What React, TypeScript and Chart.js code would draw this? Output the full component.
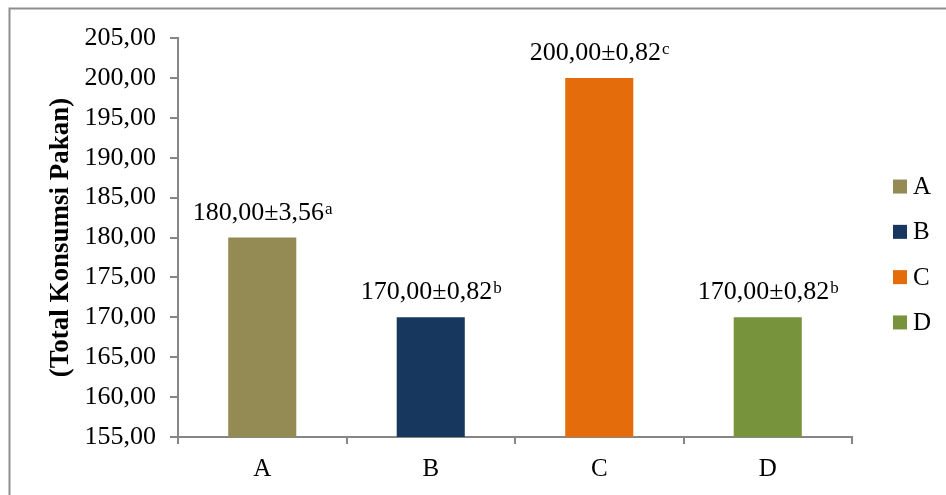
import React, { useEffect, useRef } from "react";
import { Chart, registerables } from "chart.js";

Chart.register(...registerables);

// Treatment groups and their mean feed consumption
const categories = ["A", "B", "C", "D"];
const meanValues = [180.0, 170.0, 200.0, 170.0];
const sdValues = [3.56, 0.82, 0.82, 0.82];
const sigLetters = ["a", "b", "c", "b"];
const barColors = ["#948A54", "#17375E", "#E46C0A", "#77933C"];

// Value axis range
const yMin = 155;
const yMax = 205;
const yStep = 5;

const yTitle = "(Total Konsumsi Pakan)";

const SERIF = "'Liberation Serif', 'Times New Roman', serif";
const AXIS_GRAY = "#868686";

const fmt = (v: number) => v.toFixed(2).replace(".", ",");

// Frame around the chart (top and left edges)
const framePlugin = {
  id: "frame",
  beforeDraw(chart: any) {
    const { ctx, width, height } = chart;
    ctx.save();
    ctx.fillStyle = "#ffffff";
    ctx.fillRect(0, 0, width, height);
    ctx.strokeStyle = "#8e8e8e";
    ctx.lineWidth = 2;
    ctx.beginPath();
    ctx.moveTo(9.5, height);
    ctx.lineTo(9.5, 8.5);
    ctx.lineTo(width, 8.5);
    ctx.stroke();
    ctx.restore();
  },
};

// Mean ± SD labels with significance superscripts
const valueLabelPlugin = {
  id: "valueLabels",
  afterDatasetsDraw(chart: any) {
    const { ctx } = chart;
    const meta = chart.getDatasetMeta(0);
    ctx.save();
    meta.data.forEach((bar: any, i: number) => {
      const main = `${fmt(meanValues[i])}±${fmt(sdValues[i])}`;
      const sup = sigLetters[i];
      ctx.font = `26px ${SERIF}`;
      const wMain = ctx.measureText(main).width;
      ctx.font = `17px ${SERIF}`;
      const wSup = ctx.measureText(sup).width;
      const total = wMain + wSup;
      const x0 = bar.x - total / 2;
      const base = bar.y - 18;
      ctx.fillStyle = "#000000";
      ctx.textAlign = "left";
      ctx.textBaseline = "alphabetic";
      ctx.font = `26px ${SERIF}`;
      ctx.fillText(main, x0, base);
      ctx.font = `17px ${SERIF}`;
      ctx.fillText(sup, x0 + wMain + 1, base - 6);
    });
    ctx.restore();
  },
};

// Legend listed to the right of the plot
const sideLegendPlugin = {
  id: "sideLegend",
  afterDraw(chart: any) {
    const { ctx, chartArea } = chart;
    const spacing = 45.3;
    const cy = (chartArea.top + chartArea.bottom) / 2 + 17;
    const startY = cy - (spacing * (categories.length - 1)) / 2;
    const boxX = chartArea.right + 41;
    ctx.save();
    ctx.font = `25px ${SERIF}`;
    ctx.textAlign = "left";
    ctx.textBaseline = "middle";
    categories.forEach((c, i) => {
      const y = startY + i * spacing;
      ctx.fillStyle = barColors[i];
      ctx.fillRect(boxX, y - 7, 14, 14);
      ctx.fillStyle = "#000000";
      ctx.fillText(c, boxX + 20, y + 1);
    });
    ctx.restore();
  },
};

export default function App() {
  const canvasRef = useRef<HTMLCanvasElement | null>(null);

  useEffect(() => {
    if (!canvasRef.current) return;
    const chart = new Chart(canvasRef.current, {
      type: "bar",
      data: {
        labels: categories,
        datasets: [
          {
            label: "Total Konsumsi Pakan",
            data: meanValues,
            backgroundColor: barColors,
            borderWidth: 0,
            categoryPercentage: 1,
            barPercentage: 0.404,
          },
        ],
      },
      options: {
        responsive: false,
        animation: false,
        layout: { padding: { left: 0, right: 94, top: 38, bottom: 0 } },
        plugins: {
          legend: { display: false },
          tooltip: { enabled: false },
        },
        scales: {
          x: {
            offset: true,
            grid: {
              offset: true,
              drawOnChartArea: false,
              drawTicks: true,
              tickLength: 7,
              color: AXIS_GRAY,
              lineWidth: 2,
            },
            border: { display: true, color: AXIS_GRAY, width: 2 },
            ticks: {
              color: "#000000",
              font: { family: SERIF, size: 25 },
              padding: 10,
            },
            afterFit(scale: any) {
              scale.height = 58;
            },
          },
          y: {
            min: yMin,
            max: yMax,
            ticks: {
              stepSize: yStep,
              color: "#000000",
              font: { family: SERIF, size: 26 },
              padding: 14,
              callback: (v: any) => fmt(Number(v)),
            },
            grid: {
              drawOnChartArea: false,
              drawTicks: true,
              tickLength: 8,
              color: AXIS_GRAY,
              lineWidth: 2,
            },
            border: { display: true, color: AXIS_GRAY, width: 2 },
            title: {
              display: true,
              text: yTitle,
              color: "#000000",
              font: { family: SERIF, size: 27, weight: "bold" },
              padding: { top: 45, bottom: 0 },
            },
            afterFit(scale: any) {
              scale.width = 178;
            },
          },
        },
      },
      plugins: [framePlugin, valueLabelPlugin, sideLegendPlugin],
    });
    return () => chart.destroy();
  }, []);

  return (
    <div style={{ position: "absolute", left: 0, top: 0, width: 946, height: 495 }}>
      <canvas ref={canvasRef} width={946} height={495} />
    </div>
  );
}
